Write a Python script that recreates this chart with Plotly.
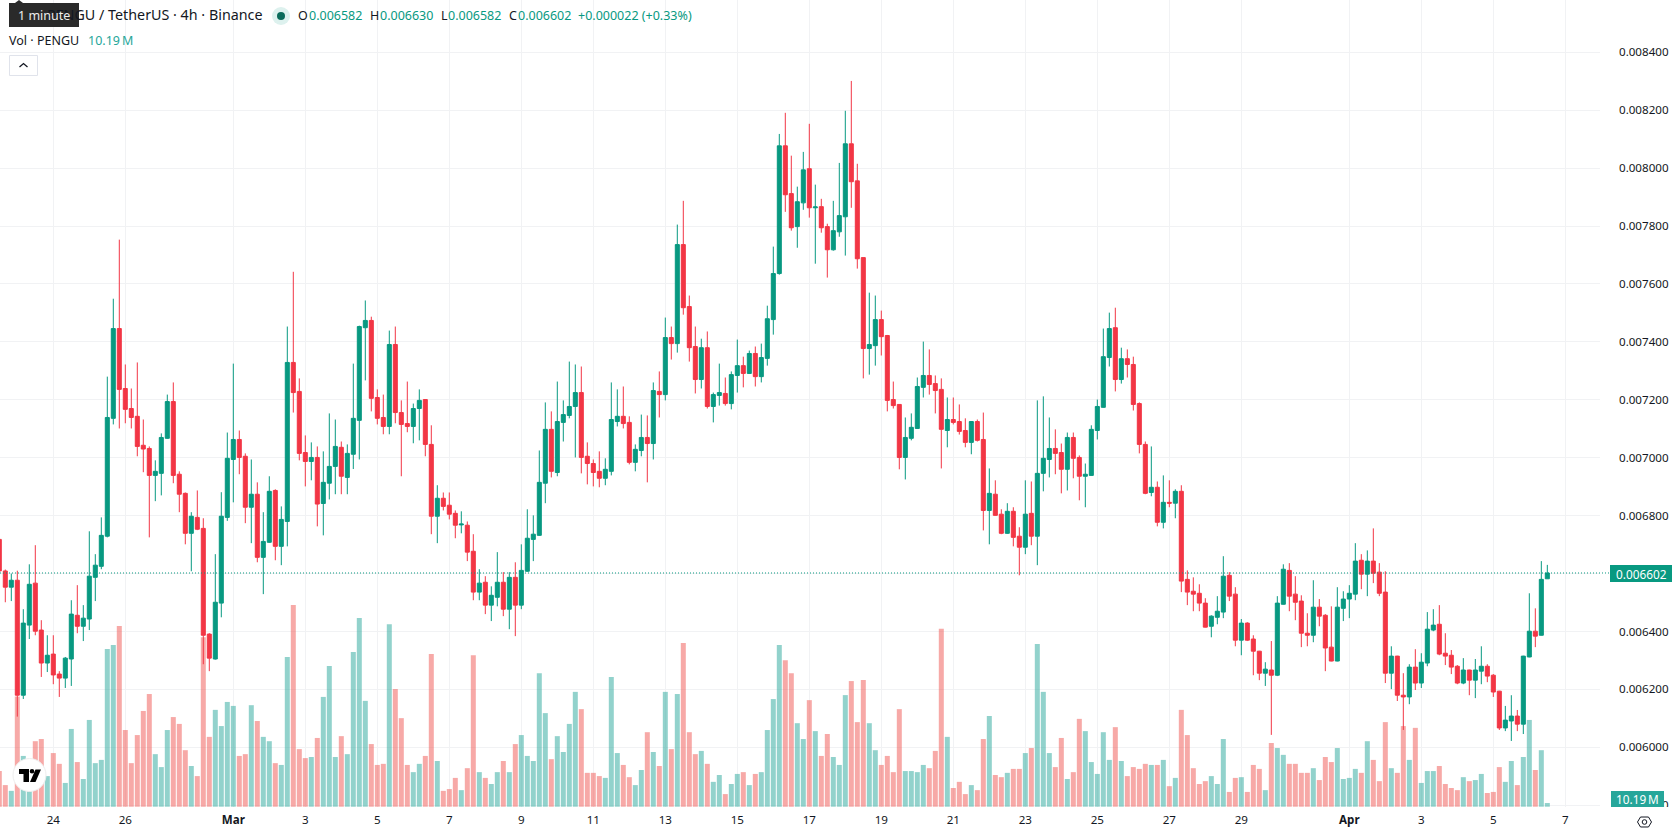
import numpy as np
import pandas as pd
import plotly.graph_objects as go

WIDTH, HEIGHT = 1678, 835
PLOT_W, PLOT_H = 1600, 807

# PENGU/USDT 4h candles, prices in millionths of a dollar, volume in millions.
first_bar = "2025-02-22 12:00"

opens = [6718,
    6609,6553,6577,6180,6422,6567,6405,6291,6322,6253,
    6239,6305,6456,6418,6443,6587,6625,6729,7136,7446,
    7239,7170,7143,7043,7032,6939,6946,7067,7194,6943,
    6877,6739,6794,6756,6391,6305,6498,6794,6994,7063,
    7005,6829,6874,6656,6708,6887,6694,6780,7329,7229,
    7018,6987,7001,6842,6912,6970,7036,6932,7012,7129,
    7449,7474,7208,7139,7108,7391,7156,7118,7108,7170,
    7201,7046,6798,6860,6836,6808,6768,6767,6677,6536,
    6570,6491,6518,6570,6477,6587,6491,6608,6718,6732,
    6912,7098,6949,7122,7146,7177,7225,7005,6980,6953,
    6929,6953,7125,7143,7122,6984,7025,7070,7049,7229,
    7218,7415,7394,7736,7522,7384,7270,7380,7177,7215,
    7222,7187,7284,7318,7291,7360,7280,7343,7477,7636,
    8077,7912,7798,7880,7998,7863,7867,7798,7718,7780,
    7832,8084,7956,7691,7377,7387,7477,7422,7201,7184,
    7001,7067,7101,7243,7284,7256,7236,7094,7132,7125,
    7094,7053,7125,7063,6818,6874,6805,6739,6815,6729,
    6691,6808,6729,6946,6994,7032,7018,6960,7070,7001,
    6936,6939,7094,7174,7346,7449,7270,7342,7322,7187,
    7046,6880,6898,6777,6846,6843,6884,6580,6539,6532,
    6498,6418,6449,6467,6594,6529,6370,6429,6374,6332,
    6256,6267,6249,6494,6611,6529,6505,6394,6387,6484,
    6456,6346,6298,6480,6512,6529,6646,6598,6643,6605,
    6536,6256,6315,6180,6174,6277,6222,6291,6405,6425,
    6325,6318,6280,6222,6267,6232,6263,6280,6249,6194,
    6067,6091,6108,6080,6312,6401,6387,6582]

closes = [6609,
    6553,6577,6180,6429,6563,6401,6291,6318,6250,6239,
    6308,6460,6418,6446,6591,6629,6732,7139,7446,7236,
    7167,7139,7039,7030,6939,6953,7070,7194,6939,6874,
    6739,6798,6753,6387,6308,6501,6798,6998,7063,7001,
    6829,6874,6656,6711,6884,6694,6787,7329,7225,7015,
    6987,7001,6840,6915,6970,7039,6936,7015,7136,7453,
    7474,7205,7136,7108,7391,7156,7115,7108,7170,7198,
    7046,6798,6860,6832,6805,6767,6771,6674,6536,6567,
    6491,6525,6570,6477,6587,6491,6611,6722,6736,6915,
    7098,6953,7125,7149,7177,7225,7001,6980,6949,6929,
    6960,7132,7143,7118,6984,7029,7070,7049,7232,7218,
    7415,7394,7736,7518,7380,7270,7380,7177,7218,7225,
    7187,7287,7318,7291,7360,7280,7346,7480,7636,8077,
    7908,7794,7884,7994,7863,7866,7794,7718,7784,7836,
    8084,7953,7687,7377,7391,7477,7418,7198,7180,7001,
    7070,7105,7246,7284,7253,7232,7098,7132,7122,7091,
    7053,7125,7060,6818,6877,6801,6739,6815,6725,6691,
    6805,6729,6946,6998,7032,7015,6960,7070,6998,6936,
    6943,7098,7177,7349,7446,7270,7342,7322,7184,7046,
    6877,6898,6777,6846,6843,6884,6574,6536,6529,6498,
    6415,6453,6470,6591,6522,6370,6429,6370,6332,6256,
    6270,6249,6498,6615,6522,6501,6394,6387,6484,6453,
    6343,6298,6484,6512,6532,6643,6598,6643,6601,6532,
    6256,6315,6180,6174,6277,6222,6294,6408,6422,6322,
    6315,6277,6222,6267,6232,6267,6280,6246,6191,6067,
    6094,6108,6080,6315,6401,6384,6580,6602]

highs = [6730,
    6614,6600,6610,6477,6632,6698,6439,6387,6387,6263,
    6312,6508,6560,6491,6746,6667,6794,7280,7549,7753,
    7322,7239,7329,7132,7039,6991,7084,7218,7260,6953,
    6880,6812,6887,6791,6394,6667,6881,7087,7325,7094,
    7015,6994,6915,6812,6936,6891,6832,7453,7642,7274,
    7077,7053,7039,7022,7153,7132,7056,7046,7325,7456,
    7543,7487,7236,7218,7439,7453,7198,7263,7187,7236,
    7201,7112,6905,6880,6880,6818,6815,6780,6736,6615,
    6591,6556,6674,6605,6605,6639,6701,6822,6801,7025,
    7191,7160,7263,7198,7332,7322,7315,7053,6994,7022,
    6998,7260,7236,7246,7143,7046,7149,7146,7260,7298,
    7484,7453,7805,7887,7560,7453,7411,7436,7225,7325,
    7277,7298,7408,7349,7370,7384,7394,7525,7729,8118,
    8191,8043,7936,8056,8153,7943,7894,7808,7887,8018,
    8198,8301,8015,7691,7570,7560,7508,7424,7263,7184,
    7139,7153,7277,7401,7374,7284,7274,7208,7208,7184,
    7136,7126,7132,7156,6963,6922,6822,6843,6829,6760,
    6922,6918,7198,7212,7139,7098,7049,7087,7087,7008,
    6980,7112,7201,7446,7501,7518,7380,7374,7349,7191,
    7056,7039,6918,6939,6922,6891,6905,6611,6587,6563,
    6515,6456,6522,6660,6605,6553,6443,6432,6387,6333,
    6294,6367,6522,6632,6636,6591,6525,6463,6577,6512,
    6460,6487,6553,6539,6560,6705,6667,6680,6756,6636,
    6608,6349,6316,6256,6287,6339,6325,6467,6477,6491,
    6394,6336,6284,6308,6268,6305,6349,6287,6253,6195,
    6143,6180,6129,6316,6532,6480,6643,6630]

lows = [6600,
    6501,6505,6106,6167,6374,6387,6243,6260,6218,6174,
    6205,6212,6394,6367,6405,6505,6615,6725,7115,7101,
    7119,7101,7005,6950,6725,6850,6870,7065,6912,6812,
    6701,6608,6750,6287,6263,6303,6449,6782,6846,6943,
    6774,6705,6639,6529,6706,6646,6629,6694,7156,6991,
    6901,6922,6763,6732,6856,6874,6874,6874,6961,6994,
    7267,7160,7115,7081,7081,7119,6936,7088,7050,7060,
    7005,6736,6705,6818,6787,6722,6739,6643,6508,6508,
    6460,6436,6487,6453,6408,6384,6477,6606,6643,6730,
    6843,6932,6936,7056,7136,7001,6946,6908,6901,6898,
    6905,6939,7108,7101,6977,6953,7005,6915,6994,7139,
    7198,7339,7363,7494,7332,7222,7239,7170,7122,7180,
    7180,7167,7225,7243,7289,7246,7260,7318,7425,7632,
    7849,7784,7725,7856,7829,7670,7777,7622,7715,7763,
    7698,7863,7653,7274,7287,7318,7353,7160,7170,6960,
    6925,7060,7100,7208,7218,7153,6963,7036,7115,7080,
    7036,7012,7056,6749,6701,6800,6736,6737,6694,6594,
    6667,6698,6629,6884,6932,6943,6877,6887,6929,6853,
    6829,6938,7063,7173,7315,7229,7256,7277,7163,7015,
    6874,6867,6763,6756,6829,6791,6536,6491,6470,6470,
    6414,6380,6425,6446,6505,6349,6318,6367,6249,6232,
    6212,6043,6246,6493,6470,6439,6346,6349,6363,6418,
    6263,6297,6297,6436,6446,6508,6546,6522,6567,6522,
    6222,6201,6160,6060,6149,6198,6205,6280,6401,6318,
    6284,6253,6218,6218,6180,6170,6218,6225,6174,6060,
    6056,6022,6056,6046,6311,6346,6386,6582]

volumes = [99,
    60,44,306,141,65,182,188,85,149,119,
    66,216,124,77,241,121,130,438,449,502,
    213,121,199,266,313,146,110,213,249,230,
    157,113,85,471,194,269,224,291,280,141,
    146,282,238,194,182,121,116,416,560,160,
    135,138,191,305,391,138,196,146,430,524,
    294,174,116,119,507,327,246,116,96,119,
    141,424,127,44,49,80,46,107,421,96,
    80,63,96,127,96,174,199,141,127,371,
    260,132,196,152,230,319,271,94,94,85,
    80,360,149,116,82,60,102,207,152,113,
    319,160,313,455,207,146,155,119,69,88,
    35,63,91,96,60,91,96,213,299,449,
    407,371,232,188,296,210,141,202,138,116,
    310,349,235,352,232,157,116,141,96,271,
    99,99,96,116,107,155,494,194,52,69,
    35,60,46,188,252,88,82,94,105,105,
    149,163,452,319,149,110,191,77,96,244,
    210,124,91,207,130,221,127,85,110,105,
    119,116,116,130,57,80,269,199,107,63,
    71,85,63,188,41,80,82,41,116,105,
    46,177,163,144,119,119,94,94,107,74,
    138,124,163,77,80,105,94,182,130,71,
    235,107,94,224,130,219,66,99,99,113,
    63,52,46,82,71,74,91,38,41,110,
    69,127,60,138,241,102,157,10.19]

x_tick_dates = ["2025-02-24","2025-02-26","2025-03-01","2025-03-03","2025-03-05","2025-03-07",
                "2025-03-09","2025-03-11","2025-03-13","2025-03-15","2025-03-17","2025-03-19",
                "2025-03-21","2025-03-23","2025-03-25","2025-03-27","2025-03-29","2025-04-01",
                "2025-04-03","2025-04-05","2025-04-07"]
x_tick_text = ["24","26","<b>Mar</b>","3","5","7","9","11","13","15","17","19","21","23","25","27",
               "29","<b>Apr</b>","3","5","7"]
price_ticks = [0.0058,0.0060,0.0062,0.0064,0.0066,0.0068,0.0070,0.0072,0.0074,0.0076,0.0078,0.0080,0.0082,0.0084]

UP, DOWN = "#089981", "#F23645"
UP_VOL, DOWN_VOL = "rgba(38,166,154,0.5)", "rgba(239,83,80,0.5)"
INK, GRID = "#131722", "#F1F2F4"
FONT = "Noto Sans"

to_price = lambda series: (np.array(series, dtype=float) / 1e6).tolist()
o, h, l, c = map(to_price, (opens, highs, lows, closes))
times = pd.date_range(first_bar, periods=len(opens), freq="4h")
bar_colors = [UP_VOL if cl >= op else DOWN_VOL for op, cl in zip(opens, closes)]

fig = go.Figure()
fig.add_trace(go.Bar(x=times, y=volumes, marker=dict(color=bar_colors, line_width=0),
                     yaxis="y", hoverinfo="skip", showlegend=False))
fig.add_trace(go.Candlestick(
    x=times, open=o, high=h, low=l, close=c, yaxis="y2", whiskerwidth=0, hoverinfo="skip",
    increasing=dict(line=dict(color=UP, width=1), fillcolor=UP),
    decreasing=dict(line=dict(color=DOWN, width=1), fillcolor=DOWN),
    showlegend=False))


def px(x):
    return x / PLOT_W


def py(y):
    return 1 - y / PLOT_H


def path(points, close=True):
    body = " L ".join(f"{px(a):.6f},{py(b):.6f}" for a, b in points)
    return f"M {body}" + (" Z" if close else "")


def rect(x0, y0, x1, y1, fill, line="rgba(0,0,0,0)", lw=0):
    return dict(type="rect", xref="paper", yref="paper", x0=px(x0), x1=px(x1), y0=py(y0), y1=py(y1),
                fillcolor=fill, line=dict(color=line, width=lw), layer="above")


def circle(cx, cy, r, fill, line="rgba(0,0,0,0)", lw=0):
    return dict(type="circle", xref="paper", yref="paper", x0=px(cx - r), x1=px(cx + r),
                y0=py(cy + r), y1=py(cy - r), fillcolor=fill, line=dict(color=line, width=lw), layer="above")


def poly(points, fill, line="rgba(0,0,0,0)", lw=0, close=True):
    return dict(type="path", xref="paper", yref="paper", path=path(points, close), fillcolor=fill,
                line=dict(color=line, width=lw), layer="above")


def text(x, y, s, color=INK, size=12.5, anchor="left"):
    return dict(xref="paper", yref="paper", x=px(x), y=py(y), text=s, showarrow=False, xanchor=anchor,
                yanchor="middle", font=dict(family=FONT, size=size, color=color), borderpad=0, borderwidth=0)


shapes = [
    # last price line
    dict(type="line", xref="paper", yref="y2", x0=0, x1=px(1610), y0=c[-1], y1=c[-1],
         line=dict(color=UP, width=1, dash="1px,2px"), layer="above"),
    # the price scale stops at the bottom of the pane
    rect(1602, 807, 1678, 813, "#FFFFFF"),
    # last price and volume tags on the scale
    rect(1610, 565, 1672, 582, UP),
    rect(1611, 791, 1664, 807, "#26A69A"),
    # tooltip over the symbol name
    rect(9, 3, 79, 27, "#2A2A2A"),
    poly([(15, 3), (19, 0), (23, 3)], "#2A2A2A"),
    # market status dot
    circle(281, 16, 9, "#DDF1EE"),
    circle(281, 16, 4, "#0B6B5B"),
    # collapse button
    rect(9.5, 55.5, 37.5, 75.5, "#FFFFFF", "#E0E3EB", 1),
    poly([(19.5, 67), (23.5, 63.5), (27.5, 67)], "rgba(0,0,0,0)", INK, 1.3, close=False),
    # scale settings icon
    poly([(1637.5, 822), (1640.5, 817), (1648.5, 817), (1651.5, 822), (1648.5, 827), (1640.5, 827)],
         "rgba(0,0,0,0)", INK, 1),
    circle(1644.5, 822, 2.3, "rgba(0,0,0,0)", INK, 1),
    # logo badge
    circle(29.5, 775, 16.5, "#FFFFFF", "#EEEEEE", 1),
    poly([(19, 769), (29, 769), (29, 782), (23.5, 782), (23.5, 774), (19, 774)], "#000000"),
    circle(32, 771.2, 2.3, "#000000"),
    poly([(35.5, 769.5), (41, 769.5), (35.5, 782), (30, 782)], "#000000"),
]

annotations = [
    text(263, 15, "PENGU / TetherUS · 4h · Binance", size=14.3, anchor="right"),
    text(44, 15.5, "1 minute", "#EDEDED", 12.5, "center"),
    text(298, 16, "O"), text(309, 16, "0.006582", UP),
    text(370, 16, "H"), text(380, 16, "0.006630", UP),
    text(441, 16, "L"), text(448, 16, "0.006582", UP),
    text(509, 16, "C"), text(518, 16, "0.006602", UP),
    text(578, 16, "+0.000022 (+0.33%)", UP),
    text(9, 40.5, "Vol · PENGU"), text(88, 40.5, "10.19\u2009M", "#26A69A"),
    text(1641, 573.5, "0.006602", "#FFFFFF", 11.8, "center"),
    text(1637.5, 799, "10.19\u2009M", "#FFFFFF", 11.8, "center"),
]

fig.update_layout(
    width=WIDTH, height=HEIGHT, autosize=False,
    margin=dict(l=0, r=WIDTH - PLOT_W, t=0, b=HEIGHT - PLOT_H, pad=0),
    paper_bgcolor="#FFFFFF", plot_bgcolor="#FFFFFF",
    font=dict(family=FONT, size=11.6, color=INK),
    bargap=1 / 6, boxgap=0.33, boxgroupgap=0, showlegend=False,
    shapes=shapes, annotations=annotations,
    xaxis=dict(type="date", range=["2025-02-22 12:28", "2025-04-07 23:07"],
               rangeslider=dict(visible=False), tickmode="array", tickvals=x_tick_dates,
               ticktext=x_tick_text, showgrid=True, gridcolor=GRID, gridwidth=1, zeroline=False,
               showline=False, ticks="", ticklabelstandoff=4, tickangle=0,
               tickfont=dict(family=FONT, size=11.6, color=INK)),
    yaxis=dict(range=[-0.83, 2241], showgrid=False, zeroline=False, showticklabels=False,
               ticks="", showline=False, fixedrange=True),
    yaxis2=dict(overlaying="y", side="right", range=[0.005794, 0.0085805], tickmode="array",
                tickvals=price_ticks, tickformat=".6f", showgrid=True, gridcolor=GRID, gridwidth=1,
                zeroline=False, showline=False, ticks="", ticklabelstandoff=18,
                tickfont=dict(family=FONT, size=11.6, color=INK)),
)

fig.write_html("out.html")
